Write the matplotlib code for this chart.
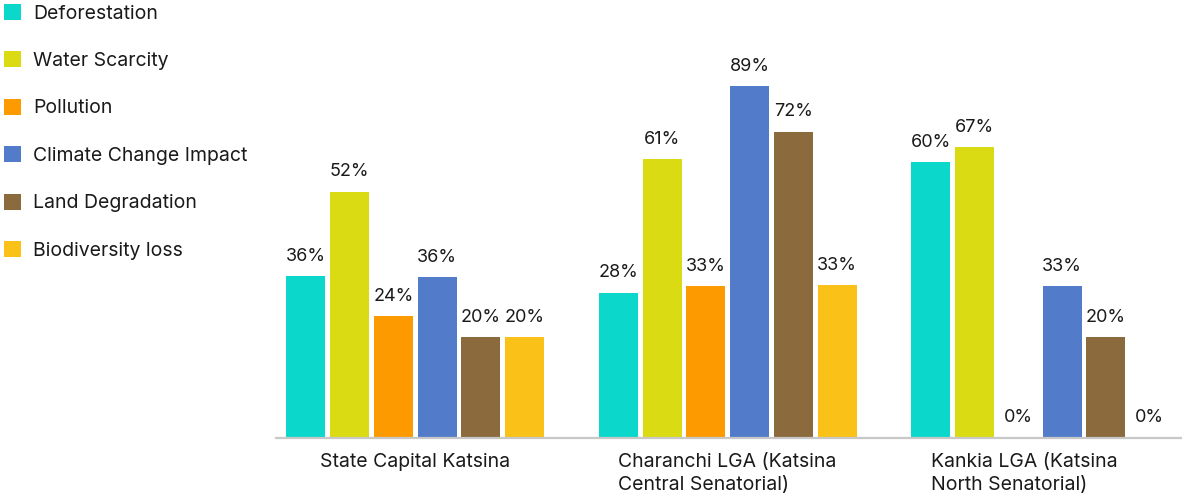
import matplotlib
matplotlib.use("Agg")
import matplotlib.pyplot as plt
from matplotlib.patches import Patch
from matplotlib.transforms import ScaledTranslation
import numpy as np

plt.rcParams['font.family'] = ['Inter', 'DejaVu Sans']

# data
regions = ["State Capital Katsina",
           "Charanchi LGA (Katsina\nCentral Senatorial)",
           "Kankia LGA (Katsina\nNorth Senatorial)"]
issues = ["Deforestation", "Water Scarcity", "Pollution",
          "Climate Change Impact", "Land Degradation", "Biodiversity loss"]
colors = ["#0bd7ca", "#dadb12", "#fd9a00", "#527bca", "#8b6a3e", "#fac118"]

# bar heights as drawn (not exactly proportional to the printed labels)
deforestation = [32.3, 29.0, 55.1]
water_scarcity = [49.2, 55.7, 58.1]
pollution = [24.3, 30.3, 0.0]
climate_change = [32.1, 70.3, 30.3]
land_degradation = [20.1, 61.2, 20.1]
biodiversity = [20.1, 30.5, 0.0]

# printed percentage labels
deforestation_pct = [36, 28, 60]
water_scarcity_pct = [52, 61, 67]
pollution_pct = [24, 33, 0]
climate_change_pct = [36, 89, 33]
land_degradation_pct = [20, 72, 20]
biodiversity_pct = [20, 33, 0]

heights = [deforestation, water_scarcity, pollution,
           climate_change, land_degradation, biodiversity]
pcts = [deforestation_pct, water_scarcity_pct, pollution_pct,
        climate_change_pct, land_degradation_pct, biodiversity_pct]

W, H = 1182, 500
fig = plt.figure(figsize=(W / 100, H / 100), dpi=100)

# axes placed in pixel terms: baseline at y=437.5, x from 276 to 1182
ax = fig.add_axes([276 / W, (H - 437.5) / H, (W - 276) / W, 437.5 / H])
ax.set_ylim(0, 87.5)
ax.set_xlim(-0.4454, 2.4538)

x = np.arange(len(regions))
step = 0.14
width = 0.125
for i, (vals, labs, col) in enumerate(zip(heights, pcts, colors)):
    pos = x + (i - 2.5) * step
    bars = ax.bar(pos, vals, width=width, color=col, label=issues[i])
    for b, lab in zip(bars, labs):
        ax.annotate(f"{lab}%", (b.get_x() + b.get_width() / 2, b.get_height()),
                    xytext=(0, 8), textcoords="offset points",
                    ha="center", va="bottom", fontsize=13, color="#1a1a1a")

for s in ["top", "right", "left"]:
    ax.spines[s].set_visible(False)
ax.spines["bottom"].set_color("#c8c8c8")
ax.spines["bottom"].set_linewidth(1.6)
ax.set_yticks([])
ax.set_xticks(x)
ax.set_xticklabels(regions, fontsize=14, color="#1a1a1a",
                   multialignment="left", linespacing=1.38)
ax.tick_params(axis="x", length=0, pad=11)

# last region label sits a little left of its bar group in the reference
last = ax.get_xticklabels()[-1]
last.set_transform(last.get_transform() + ScaledTranslation(-16 / 100, 0, fig.dpi_scale_trans))

handles = [Patch(facecolor=c, edgecolor="none") for c in colors]
fig.legend(handles, issues, loc="upper left", bbox_to_anchor=(0.0, 1.0),
           frameon=False, fontsize=14, handlelength=0.88, handleheight=0.88,
           handletextpad=0.62, labelspacing=1.48, borderpad=0.2,
           borderaxespad=0.0, labelcolor="#1a1a1a")

fig.savefig("out.png", dpi=100)
